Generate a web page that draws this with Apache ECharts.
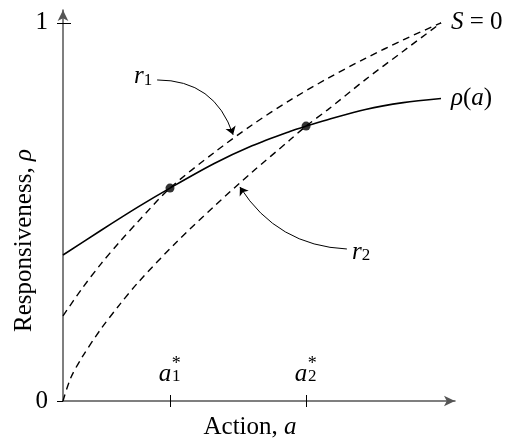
<!DOCTYPE html>
<html>
<head>
<meta charset="utf-8">
<script src="https://cdn.jsdelivr.net/npm/echarts@6/dist/echarts.min.js"></script>
<style>
  html, body { margin: 0; padding: 0; background: #fff; }
  #chart { width: 518px; height: 445px; }
</style>
</head>
<body>
<div id="chart"></div>
<script>
// values (action a on x, responsiveness on y)
const aStar = [0.283, 0.643];
const yTicks = [0, 1];

const rhoA = [0, 0.1, 0.2, 0.283, 0.4, 0.5, 0.6, 0.643, 0.7, 0.8, 0.9, 1.0];
const rhoV = [0.386, 0.451, 0.514, 0.563, 0.628, 0.675, 0.713, 0.727, 0.744, 0.771, 0.789, 0.800];

const r1A = [0, 0.05, 0.1, 0.15, 0.2, 0.283, 0.4, 0.5, 0.6, 0.7, 0.8, 0.9, 1.0];
const r1V = [0.225, 0.297, 0.362, 0.421, 0.476, 0.563, 0.657, 0.730, 0.795, 0.853, 0.906, 0.955, 1.0];

const r2A = [0, 0.02, 0.05, 0.1, 0.15, 0.2, 0.3, 0.4, 0.5, 0.6, 0.643, 0.7, 0.8, 0.9, 1.0];
const r2V = [0, 0.06, 0.115, 0.19, 0.255, 0.315, 0.42, 0.515, 0.605, 0.69, 0.727, 0.77, 0.85, 0.925, 1.0];

const dotV = [0.563, 0.727];

// annotation arrows: [start, end] in data units
const noteR1 = [[0.249, 0.849], [0.450, 0.704]];
const noteR2 = [[0.751, 0.402], [0.468, 0.566]];

const FONT = "'Liberation Serif', 'DejaVu Serif', serif";
const X_MAX = 1.037;
const Y_MAX = 1.034;

function pairs(xs, ys) {
  return xs.map((x, i) => [x, ys[i]]);
}

let myChart = echarts.init(document.getElementById("chart"));

let mathRich = {
  i: { fontFamily: FONT, fontSize: 25, fontStyle: "italic", color: "#000" },
  u: { fontFamily: FONT, fontSize: 25, color: "#000" },
  s: { fontFamily: FONT, fontSize: 17, color: "#000", verticalAlign: "bottom", lineHeight: 22 },
};

// hidden helper axis on the same grid (only ticks or labels)
function overlayX(extra) {
  return Object.assign({
    type: "value",
    min: 0,
    max: X_MAX,
    position: "bottom",
    splitLine: { show: false },
    axisLine: { show: false },
    axisTick: { show: false },
    axisLabel: { show: false },
  }, extra);
}

let option = {
  animation: false,
  backgroundColor: "#fff",
  textStyle: { fontFamily: FONT },
  grid: { left: 63, right: 63, top: 10, bottom: 44, outerBoundsMode: "none", containLabel: false },
  xAxis: [
    {
      type: "value",
      min: 0,
      max: X_MAX,
      splitLine: { show: false },
      axisLine: {
        lineStyle: { color: "#555", width: 1.5 },
        symbol: ["none", "arrow"],
        symbolSize: [8, 11],
      },
      axisTick: { customValues: aStar, length: 6, lineStyle: { color: "#000", width: 1 } },
      axisLabel: { show: false },
      name: "{u|Action, }{i|a}",
      nameLocation: "middle",
      nameGap: 14,
      nameMoveOverlap: false,
      nameTextStyle: { rich: mathRich, verticalAlign: "top", padding: [0, 18, 0, 0] },
    },
    overlayX({
      axisTick: { show: true, customValues: aStar, inside: true, length: 6, lineStyle: { color: "#000", width: 1 } },
      axisLabel: {
        show: true,
        customValues: aStar,
        inside: true,
        margin: 16,
        formatter: (v) => "{a|a}{sb|" + (aStar.indexOf(v) + 1) + "}",
        rich: {
          a: { fontFamily: FONT, fontSize: 25, fontStyle: "italic", color: "#000", lineHeight: 22 },
          sb: { fontFamily: FONT, fontSize: 17, color: "#000", width: 10, align: "left", lineHeight: 22, verticalAlign: "bottom" },
        },
      },
    }),
    overlayX({
      axisLabel: {
        show: true,
        customValues: aStar,
        inside: true,
        margin: 28,
        formatter: () => "{g|a}{st|*}",
        rich: {
          g: { fontFamily: FONT, fontSize: 25, fontStyle: "italic", color: "rgba(0,0,0,0)", lineHeight: 18 },
          st: { fontFamily: FONT, fontSize: 18, color: "#000", width: 10, align: "left", lineHeight: 18 },
        },
      },
    }),
  ],
  yAxis: [
    {
      type: "value",
      min: 0,
      max: Y_MAX,
      splitLine: { show: false },
      axisLine: {
        lineStyle: { color: "#555", width: 1.5 },
        symbol: ["none", "arrow"],
        symbolSize: [8, 11],
      },
      axisTick: { customValues: yTicks, length: 6, lineStyle: { color: "#000", width: 1 } },
      axisLabel: {
        customValues: yTicks,
        margin: 15,
        fontFamily: FONT,
        fontSize: 25,
        color: "#000",
      },
      name: "{u|Responsiveness, }{i|ρ}",
      nameLocation: "middle",
      nameGap: 26,
      nameRotate: 90,
      nameMoveOverlap: false,
      nameTextStyle: { rich: mathRich, padding: [0, 70, 0, 0] },
    },
    {
      type: "value",
      min: 0,
      max: Y_MAX,
      position: "left",
      splitLine: { show: false },
      axisLine: { show: false },
      axisTick: { customValues: [1], inside: true, length: 8, lineStyle: { color: "#000", width: 1 } },
      axisLabel: { show: false },
    },
  ],
  series: [
    {
      name: "rho",
      type: "line",
      data: pairs(rhoA, rhoV),
      smooth: 0.3,
      showSymbol: false,
      lineStyle: { color: "#000", width: 1.6 },
      endLabel: {
        show: true,
        distance: 10,
        formatter: "{i|ρ}{u|(}{i|a}{u|)}",
        rich: mathRich,
      },
    },
    {
      name: "r1",
      type: "line",
      data: pairs(r1A, r1V),
      smooth: 0.3,
      showSymbol: false,
      lineStyle: { color: "#000", width: 1.4, type: [7, 5] },
      endLabel: {
        show: true,
        distance: 10,
        formatter: "{i|S}{u| = 0}",
        rich: mathRich,
      },
    },
    {
      name: "r2",
      type: "line",
      data: pairs(r2A, r2V),
      smooth: 0.3,
      showSymbol: false,
      lineStyle: { color: "#000", width: 1.4, type: [7, 5] },
    },
    {
      name: "equilibria",
      type: "scatter",
      data: pairs(aStar, dotV),
      symbolSize: 9,
      itemStyle: { color: "#000" },
      z: 5,
    },
    {
      name: "notes",
      type: "lines",
      coordinateSystem: "cartesian2d",
      symbol: ["none", "arrow"],
      symbolSize: 8,
      lineStyle: { color: "#000", width: 1, opacity: 1 },
      label: {
        show: true,
        position: "start",
        distance: 6,
        formatter: (p) => "{i|r}{s|" + p.data.k + "}",
        rich: mathRich,
      },
      data: [
        { coords: noteR1, k: 1, lineStyle: { curveness: 0.36 } },
        { coords: noteR2, k: 2, lineStyle: { curveness: 0.26 } },
      ],
      z: 4,
    },
  ],
};
myChart.setOption(option);
</script>
</body>
</html>
